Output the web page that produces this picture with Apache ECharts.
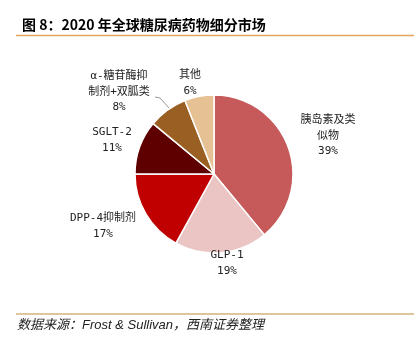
<!DOCTYPE html>
<html>
<head>
<meta charset="utf-8">
<script src="https://cdn.jsdelivr.net/npm/echarts@6/dist/echarts.min.js"></script>
<style>
  html, body { margin: 0; padding: 0; background: #fff; }
  #chart { width: 414px; height: 351px; }
</style>
</head>
<body>
<div id="chart"></div>
<script>
// 细分市场及占比
const segments = ['胰岛素及类\n似物', 'GLP-1', 'DPP-4抑制剂', 'SGLT-2', 'α-糖苷酶抑\n制剂+双胍类', '其他'];
const shares = [39, 19, 17, 11, 8, 6];
const colors = ['#C65A5A', '#EAC5C4', '#C00000', '#5E0000', '#9A6023', '#E6C194'];

// 标签位置（像素）
const labelPos = [[328, 136], [227, 263], [103, 226], [112, 140], [119, 92], [190, 83]];

const chart = echarts.init(document.getElementById('chart'));

chart.setOption({
    animation: false,
    title: {
        text: '图 8：2020 年全球糖尿病药物细分市场',
        left: 17,
        top: 13,
        textStyle: {
            fontFamily: 'Noto Sans CJK SC',
            fontSize: 14,
            fontWeight: 'bold',
            color: '#000'
        }
    },
    graphic: [
        {
            type: 'line',
            shape: { x1: 16, y1: 35.5, x2: 414, y2: 35.5 },
            style: { stroke: '#E2A35B', lineWidth: 1.5 }
        },
        {
            type: 'line',
            shape: { x1: 16, y1: 314, x2: 414, y2: 314 },
            style: { stroke: '#D3B27A', lineWidth: 1.5 }
        },
        {
            type: 'text',
            left: 17,
            top: 319,
            style: {
                text: '数据来源：Frost & Sullivan，西南证券整理',
                font: 'italic 13px "Liberation Sans", "Noto Sans CJK SC"',
                fill: '#222'
            }
        }
    ],
    series: [{
        type: 'pie',
        center: [214, 174],
        radius: [0, 79],
        startAngle: 90,
        clockwise: true,
        itemStyle: { borderColor: '#fff', borderWidth: 1.5 },
        label: {
            show: true,
            formatter: p => p.name + '\n' + p.value + '%',
            fontFamily: 'DejaVu Sans Mono, Noto Sans CJK SC',
            fontSize: 11,
            lineHeight: 15.5,
            color: '#222',
            align: 'center'
        },
        labelLine: { show: false },
        labelLayout: function (params) {
            const i = params.dataIndex;
            const res = { x: labelPos[i][0], y: labelPos[i][1], align: 'center', verticalAlign: 'middle' };
            if (i === 4) {
                res.labelLinePoints = [[155, 97], [160, 98], [169, 108]];
            }
            return res;
        },
        data: segments.map((name, i) => ({
            name: name,
            value: shares[i],
            itemStyle: { color: colors[i] },
            labelLine: i === 4 ? { show: true, lineStyle: { color: '#999', width: 1 } } : { show: false }
        }))
    }]
});
</script>
</body>
</html>
